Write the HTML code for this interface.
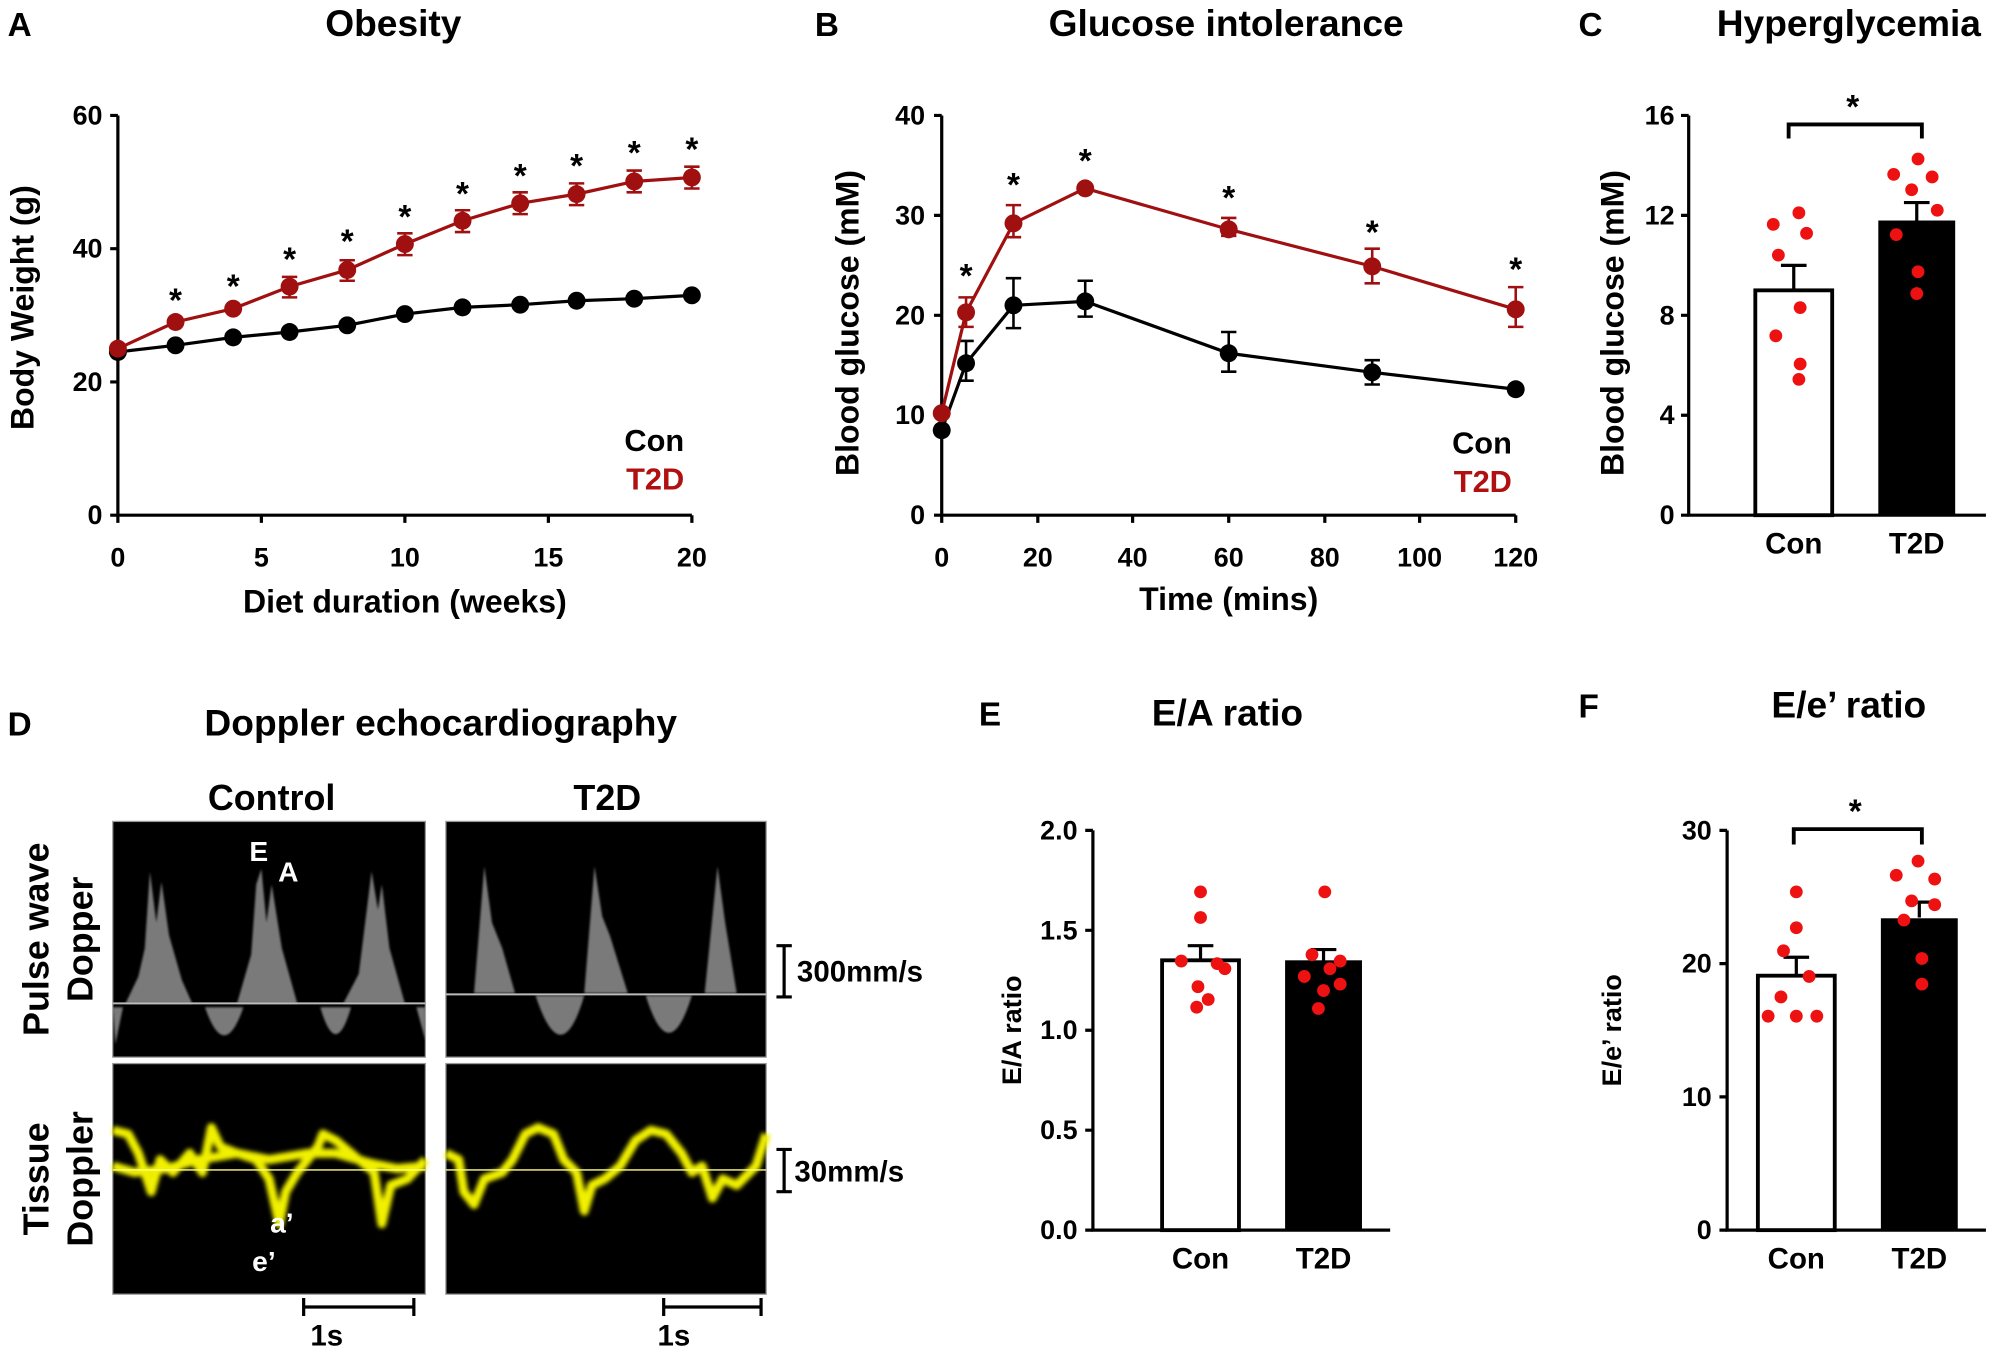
<!DOCTYPE html>
<html><head><meta charset="utf-8"><style>
html,body{margin:0;padding:0;background:#fff}
svg{display:block}
text{font-family:"Liberation Sans",sans-serif;font-weight:bold}
</style></head><body>
<svg width="2009" height="1352" viewBox="0 0 1568 1055" xmlns="http://www.w3.org/2000/svg">
<defs><filter id="bl"><feGaussianBlur stdDeviation="1.6"/></filter><filter id="bl2"><feGaussianBlur stdDeviation="0.8"/></filter></defs>
<g font-size="26">
<text x="6" y="28">A</text><text x="636" y="28">B</text><text x="1232" y="28">C</text>
<text x="6" y="574">D</text><text x="764" y="566">E</text><text x="1232" y="560">F</text>
</g>
<g font-size="29" text-anchor="middle">
<text x="307" y="28">Obesity</text><text x="957" y="28">Glucose intolerance</text><text x="1443" y="28">Hyperglycemia</text>
<text x="344" y="574">Doppler echocardiography</text><text x="958" y="566">E/A ratio</text><text x="1443" y="560">E/e’ ratio</text>
</g>
<!-- Panel A -->
<g stroke="#000" stroke-width="2.5" fill="none">
<path d="M92,90V402H540"/>
<path d="M86,90H92M86,194H92M86,298H92M86,402H92"/>
<path d="M92,402V408M204,402V408M316,402V408M428,402V408M540,402V408"/>
</g>
<g font-size="21" text-anchor="end"><text x="80" y="97">60</text><text x="80" y="201">40</text><text x="80" y="305">20</text><text x="80" y="409">0</text></g>
<g font-size="21" text-anchor="middle"><text x="92" y="442">0</text><text x="204" y="442">5</text><text x="316" y="442">10</text><text x="428" y="442">15</text><text x="540" y="442">20</text></g>
<text x="316" y="478" font-size="25" text-anchor="middle">Diet duration (weeks)</text>
<text transform="translate(26,240) rotate(-90)" font-size="25" text-anchor="middle">Body Weight (g)</text>
<polyline fill="none" stroke="#000" stroke-width="2.5" points="92,274.6 137,269.4 182,263.2 226,259 271,253.8 316,245 361,239.8 406,237.7 450,234.6 495,233 540,230.4"/>
<polyline fill="none" stroke="#a01010" stroke-width="2.5" points="92,272 137,251.2 182,240.8 226,223.6 271,210.6 316,190.4 361,172.2 406,158.6 450,151.4 495,141.5 540,138.4"/>
<g fill="#000"><circle cx="92" cy="274.6" r="7"/><circle cx="137" cy="269.4" r="7"/><circle cx="182" cy="263.2" r="7"/><circle cx="226" cy="259" r="7"/><circle cx="271" cy="253.8" r="7"/><circle cx="316" cy="245" r="7"/><circle cx="361" cy="239.8" r="7"/><circle cx="406" cy="237.7" r="7"/><circle cx="450" cy="234.6" r="7"/><circle cx="495" cy="233" r="7"/><circle cx="540" cy="230.4" r="7"/></g>
<g stroke="#a01010" stroke-width="2" fill="none"><path d="M226,216V232M220,216H232M220,232H232M271,203V219M265,203H277M265,219H277M316,182V199M310,182H322M310,199H322M361,164V181M355,164H367M355,181H367M406,150V167M400,150H412M400,167H412M450,143V160M444,143H456M444,160H456M495,133V150M489,133H501M489,150H501M540,130V147M534,130H546M534,147H546"/></g>
<g fill="#a01010"><circle cx="92" cy="272" r="7"/><circle cx="137" cy="251.2" r="7"/><circle cx="182" cy="240.8" r="7"/><circle cx="226" cy="223.6" r="7"/><circle cx="271" cy="210.6" r="7"/><circle cx="316" cy="190.4" r="7"/><circle cx="361" cy="172.2" r="7"/><circle cx="406" cy="158.6" r="7"/><circle cx="450" cy="151.4" r="7"/><circle cx="495" cy="141.5" r="7"/><circle cx="540" cy="138.4" r="7"/></g>
<g font-size="26" text-anchor="middle"><text x="137" y="243">*</text><text x="182" y="232">*</text><text x="226" y="211">*</text><text x="271" y="197">*</text><text x="316" y="178">*</text><text x="361" y="160">*</text><text x="406" y="146">*</text><text x="450" y="138">*</text><text x="495" y="128">*</text><text x="540" y="125">*</text></g>
<g font-size="24" text-anchor="end"><text x="534" y="352">Con</text><text x="534" y="382" fill="#b01010">T2D</text></g>
<!-- Panel B -->
<g stroke="#000" stroke-width="2.5" fill="none">
<path d="M735,90V402H1183"/>
<path d="M729,90H735M729,168H735M729,246H735M729,324H735M729,402H735"/>
<path d="M735,402V408M810,402V408M884,402V408M959,402V408M1034,402V408M1108,402V408M1183,402V408"/>
</g>
<g font-size="21" text-anchor="end"><text x="722" y="97">40</text><text x="722" y="175">30</text><text x="722" y="253">20</text><text x="722" y="331">10</text><text x="722" y="409">0</text></g>
<g font-size="21" text-anchor="middle"><text x="735" y="442">0</text><text x="810" y="442">20</text><text x="884" y="442">40</text><text x="959" y="442">60</text><text x="1034" y="442">80</text><text x="1108" y="442">100</text><text x="1183" y="442">120</text></g>
<text x="959" y="476" font-size="25" text-anchor="middle">Time (mins)</text>
<text transform="translate(670,252) rotate(-90)" font-size="25" text-anchor="middle">Blood  glucose (mM)</text>
<g stroke="#000" stroke-width="2" fill="none"><path d="M754,266V297M748,266H760M748,297H760M791,217V256M785,217H797M785,256H797M847,219V247M841,219H853M841,247H853M959,259V290M953,259H965M953,290H965M1071,281V300M1065,281H1077M1065,300H1077"/></g>
<polyline fill="none" stroke="#000" stroke-width="2.5" points="735,335.7 754,283.4 791,238.2 847,235.1 959,275.6 1071,290.5 1183,303.7"/>
<g fill="#000"><circle cx="735" cy="335.7" r="7"/><circle cx="754" cy="283.4" r="7"/><circle cx="791" cy="238.2" r="7"/><circle cx="847" cy="235.1" r="7"/><circle cx="959" cy="275.6" r="7"/><circle cx="1071" cy="290.5" r="7"/><circle cx="1183" cy="303.7" r="7"/></g>
<g stroke="#a01010" stroke-width="2" fill="none"><path d="M754,232V255M748,232H760M748,255H760M791,160V185M785,160H797M785,185H797M959,170V184M953,170H965M953,184H965M1071,194V221M1065,194H1077M1065,221H1077M1183,224V255M1177,224H1189M1177,255H1189"/></g>
<polyline fill="none" stroke="#a01010" stroke-width="2.5" points="735,322.4 754,243.7 791,174.2 847,146.9 959,178.9 1071,207.8 1183,241.3"/>
<g fill="#a01010"><circle cx="735" cy="322.4" r="7"/><circle cx="754" cy="243.7" r="7"/><circle cx="791" cy="174.2" r="7"/><circle cx="847" cy="146.9" r="7"/><circle cx="959" cy="178.9" r="7"/><circle cx="1071" cy="207.8" r="7"/><circle cx="1183" cy="241.3" r="7"/></g>
<g font-size="26" text-anchor="middle"><text x="754" y="224">*</text><text x="791" y="153">*</text><text x="847" y="134">*</text><text x="959" y="163">*</text><text x="1071" y="190">*</text><text x="1183" y="219">*</text></g>
<g font-size="24" text-anchor="end"><text x="1180" y="354">Con</text><text x="1180" y="384" fill="#b01010">T2D</text></g>
<!-- Panel C -->
<g stroke="#000" stroke-width="2.5" fill="none">
<path d="M1318,90V402H1550"/>
<path d="M1312,90H1318M1312,168H1318M1312,246H1318M1312,324H1318M1312,402H1318"/>
<rect x="1370" y="226.5" width="60" height="175.5" stroke-width="3"/>
<path d="M1400,226.5V207M1390,207H1410M1496,172V158M1486,158H1506"/>
<path d="M1396,108V97H1500V108" stroke-width="3"/>
</g>
<rect x="1466" y="172" width="60" height="230" fill="#000"/>
<g font-size="21" text-anchor="end"><text x="1307" y="97">16</text><text x="1307" y="175">12</text><text x="1307" y="253">8</text><text x="1307" y="331">4</text><text x="1307" y="409">0</text></g>
<g font-size="23" text-anchor="middle"><text x="1400" y="432">Con</text><text x="1496" y="432">T2D</text></g>
<text x="1446" y="92" font-size="26" text-anchor="middle">*</text>
<text transform="translate(1267,252) rotate(-90)" font-size="25" text-anchor="middle">Blood glucose (mM)</text>
<g fill="#ee1111"><circle cx="1404" cy="166" r="5"/><circle cx="1384" cy="175" r="5"/><circle cx="1410" cy="182" r="5"/><circle cx="1388" cy="199" r="5"/><circle cx="1405" cy="240" r="5"/><circle cx="1386" cy="262" r="5"/><circle cx="1405" cy="284" r="5"/><circle cx="1404" cy="296" r="5"/>
<circle cx="1497" cy="124" r="5"/><circle cx="1478" cy="136" r="5"/><circle cx="1508" cy="138" r="5"/><circle cx="1492" cy="148" r="5"/><circle cx="1512" cy="164" r="5"/><circle cx="1480" cy="183" r="5"/><circle cx="1497" cy="212" r="5"/><circle cx="1496" cy="229" r="5"/></g>
<!-- Panel E -->
<g stroke="#000" stroke-width="2.5" fill="none">
<path d="M853,648V960H1085"/>
<path d="M847,648H853M847,726H853M847,804H853M847,882H853M847,960H853"/>
<rect x="907" y="749.4" width="60" height="210.6" stroke-width="3"/>
<path d="M937,749V738M927,738H947M1033,750V741M1023,741H1043"/>
</g>
<rect x="1003" y="749.4" width="60" height="210.6" fill="#000"/>
<g font-size="21" text-anchor="end"><text x="841" y="655">2.0</text><text x="841" y="733">1.5</text><text x="841" y="811">1.0</text><text x="841" y="889">0.5</text><text x="841" y="967">0.0</text></g>
<g font-size="23" text-anchor="middle"><text x="937" y="990">Con</text><text x="1033" y="990">T2D</text></g>
<text transform="translate(797,804) rotate(-90)" font-size="21" text-anchor="middle">E/A ratio</text>
<g fill="#ee1111"><circle cx="937" cy="696" r="5"/><circle cx="937" cy="716" r="5"/><circle cx="922" cy="750" r="5"/><circle cx="950" cy="752" r="5"/><circle cx="956" cy="756" r="5"/><circle cx="935" cy="770" r="5"/><circle cx="943" cy="780" r="5"/><circle cx="934" cy="786" r="5"/>
<circle cx="1034" cy="696" r="5"/><circle cx="1024" cy="745" r="5"/><circle cx="1046" cy="750" r="5"/><circle cx="1038" cy="756" r="5"/><circle cx="1018" cy="762" r="5"/><circle cx="1046" cy="768" r="5"/><circle cx="1033" cy="773" r="5"/><circle cx="1029" cy="787" r="5"/></g>
<!-- Panel F -->
<g stroke="#000" stroke-width="2.5" fill="none">
<path d="M1348,648V960H1550"/>
<path d="M1342,648H1348M1342,752H1348M1342,856H1348M1342,960H1348"/>
<rect x="1372" y="761.4" width="60" height="198.6" stroke-width="3"/>
<path d="M1402,761V747M1392,747H1412M1498,716V704M1488,704H1508"/>
<path d="M1400,659V647H1500V659" stroke-width="3"/>
</g>
<rect x="1468" y="716.6" width="60" height="243.4" fill="#000"/>
<g font-size="21" text-anchor="end"><text x="1336" y="655">30</text><text x="1336" y="759">20</text><text x="1336" y="863">10</text><text x="1336" y="967">0</text></g>
<g font-size="23" text-anchor="middle"><text x="1402" y="990">Con</text><text x="1498" y="990">T2D</text></g>
<text x="1448" y="642" font-size="26" text-anchor="middle">*</text>
<text transform="translate(1265,804) rotate(-90)" font-size="21" text-anchor="middle">E/e’ ratio</text>
<g fill="#ee1111"><circle cx="1402" cy="696" r="5"/><circle cx="1402" cy="724" r="5"/><circle cx="1392" cy="742" r="5"/><circle cx="1412" cy="762" r="5"/><circle cx="1380" cy="793" r="5"/><circle cx="1402" cy="793" r="5"/><circle cx="1418" cy="793" r="5"/><circle cx="1390" cy="778" r="5"/>
<circle cx="1497" cy="672" r="5"/><circle cx="1480" cy="683" r="5"/><circle cx="1510" cy="686" r="5"/><circle cx="1492" cy="703" r="5"/><circle cx="1510" cy="706" r="5"/><circle cx="1486" cy="718" r="5"/><circle cx="1500" cy="748" r="5"/><circle cx="1500" cy="768" r="5"/></g>
<!-- Panel D -->
<g font-size="28" text-anchor="middle"><text x="212" y="632">Control</text><text x="474" y="632">T2D</text></g>
<text transform="translate(38,733) rotate(-90)" font-size="28" text-anchor="middle">Pulse wave</text>
<text transform="translate(72,733) rotate(-90)" font-size="28" text-anchor="middle">Dopper</text>
<text transform="translate(38,920) rotate(-90)" font-size="28" text-anchor="middle">Tissue</text>
<text transform="translate(72,920) rotate(-90)" font-size="28" text-anchor="middle">Doppler</text>
<rect x="88" y="641" width="244" height="184" fill="#000" stroke="#999" stroke-width="1"/>
<rect x="348" y="641" width="250" height="184" fill="#000" stroke="#999" stroke-width="1"/>
<rect x="88" y="830" width="244" height="180" fill="#000" stroke="#999" stroke-width="1"/>
<rect x="348" y="830" width="250" height="180" fill="#000" stroke="#999" stroke-width="1"/>
<g fill="#ccc" filter="url(#bl2)" opacity="0.6">
<path d="M98,783L108,762L113,740L117,680L122,720L126,688L132,730L142,765L150,783Z"/>
<path d="M185,783L196,745L200,690L204,678L208,720L212,690L220,740L232,783Z"/>
<path d="M268,783L280,760L285,720L290,680L295,710L298,690L304,740L316,783Z"/>
<path d="M160,786Q175,830 190,786Z"/><path d="M250,786Q262,828 274,786Z"/><path d="M88,786L96,786L90,815Z"/><path d="M325,786L332,786L332,812Z"/>
<path d="M370,775L378,676L384,720L392,740L402,775Z"/>
<path d="M456,775L464,676L470,715L476,730L490,775Z"/>
<path d="M550,775L560,676L566,720L575,775Z"/>
<path d="M418,777Q438,838 456,777Z"/><path d="M504,777Q522,835 540,777Z"/>
</g>
<line x1="88" y1="783" x2="332" y2="783" stroke="#bbb" stroke-width="1.5"/>
<line x1="348" y1="776" x2="598" y2="776" stroke="#bbb" stroke-width="1.5"/>
<text x="202" y="672" font-size="22" fill="#fff" text-anchor="middle" font-weight="normal">E</text>
<text x="225" y="688" font-size="22" fill="#fff" text-anchor="middle">A</text>
<g fill="none" stroke="#f0f000" stroke-width="7" filter="url(#bl)" stroke-linejoin="round">
<polyline points="88,882 100,885 108,900 118,930 125,905 135,915 148,900 158,915 165,880 172,895 185,900 200,905 210,920 218,955 223,930 232,915 240,905 248,895 252,885 262,890 280,905 292,915 298,955 305,925 318,920 332,905"/>
<polyline points="88,910 105,915 130,912 155,905 185,900 210,905 240,900 262,900 290,908 310,912 332,910"/>
<polyline points="348,900 358,905 362,930 370,940 378,920 392,915 400,905 410,885 420,880 432,885 440,905 450,915 456,945 462,925 472,920 484,910 496,890 508,882 520,885 532,900 540,915 548,910 556,935 564,920 575,925 590,910 598,885"/>
</g>
<line x1="88" y1="913" x2="332" y2="913" stroke="#ffff80" stroke-width="1"/>
<line x1="348" y1="913" x2="598" y2="913" stroke="#ffff80" stroke-width="1"/>
<text x="220" y="962" font-size="22" fill="#fff" text-anchor="middle">a’</text>
<text x="206" y="992" font-size="22" fill="#fff" text-anchor="middle">e’</text>
<g stroke="#000" stroke-width="2.5" fill="none">
<path d="M612,738V778M606,738H618M606,778H618"/>
<path d="M612,897V930M606,897H618M606,930H618"/>
<path d="M237,1020H323M237,1013V1027M323,1013V1027"/>
<path d="M518,1020H594M518,1013V1027M594,1013V1027"/>
</g>
<g font-size="23"><text x="622" y="766">300mm/s</text><text x="620" y="922">30mm/s</text></g>
<g font-size="23" text-anchor="middle"><text x="255" y="1050">1s</text><text x="526" y="1050">1s</text></g>
</svg>
</body></html>
